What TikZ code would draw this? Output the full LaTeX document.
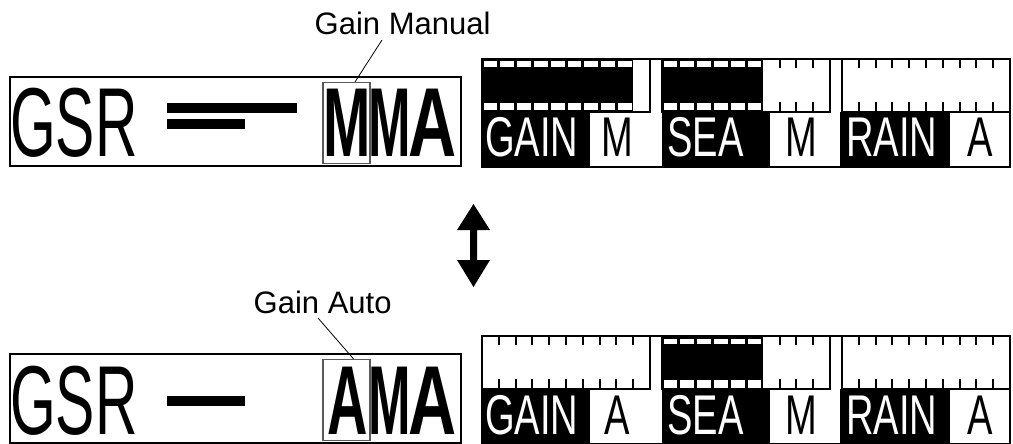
\documentclass[tikz,border=0pt]{standalone}
\usepackage{fontspec}
\setmainfont{Liberation Sans}
\usepackage{graphicx}
\usetikzlibrary{calc}
\newcommand\cnd[2]{\scalebox{#1}[1]{#2}}
\tikzset{
  frame/.style={line width=2pt},
  boxline/.style={line width=2.5pt},
  tickline/.style={line width=2pt},
  hl/.style={draw=black!65, line width=1.2pt, inner sep=0pt, minimum width=47pt, minimum height=81pt},
  big/.style={inner sep=0pt, anchor=base west, font=\fontsize{98}{98}\selectfont},
  bigb/.style={inner sep=0pt, anchor=base west, font=\fontsize{98}{98}\selectfont\bfseries},
  celltxt/.style={inner sep=0pt, anchor=base west, font=\fontsize{56}{56}\selectfont},
  lbl/.style={inner sep=0pt, anchor=base west, font=\fontsize{31}{31}\selectfont},
  leader/.style={line width=0.8pt},
}
% meter: #1 = left x, #2 = filled divisions
\newcommand\drawmeter[2]{%
  \ifnum#2>0
    \fill[black] (#1,59) rectangle ({#1+#2*16.8},112);
    \foreach \i in {1,...,#2} {
      \fill[white] ({#1+(\i-1)*16.8+1.5},61.5) rectangle ({#1+\i*16.8-1.5},67);
      \fill[white] ({#1+(\i-1)*16.8+1.5},103) rectangle ({#1+\i*16.8-1.5},110.5);
    }
  \fi
  \ifnum#2<9
    \pgfmathtruncatemacro\st{#2+1}
    \foreach \i in {\st,...,9} {
      \draw[tickline] ({#1+\i*16.8},59) -- ++(0,9);
      \draw[tickline] ({#1+\i*16.8},112) -- ++(0,-10);
    }
  \fi
  \draw[frame] (#1,59) rectangle ({#1+168},112);
}
\newcommand\drawstrip[2]{% #1 gain fill, #2 sea fill
  \fill[black] (482,112) rectangle (590,167);
  \fill[black] (662,112) rectangle (770,167);
  \fill[black] (840,112) rectangle (950,167);
  \drawmeter{482}{#1}
  \drawmeter{662}{#2}
  \drawmeter{842}{0}
  \draw[frame] (482,59) rectangle (1010,167);
}
\begin{document}
\begin{tikzpicture}[x=1pt,y=-1pt]
\useasboundingbox (0,0) rectangle (1013,444);

% ---------- top row ----------
\draw[boxline] (10,77) rectangle (461,166);
\node[big] (gsrT) at (10,157) {\cnd{0.6}{GSR}};
\fill (167,103) rectangle (297,113);
\fill (167,119) rectangle (245,129);
\node[bigb] (mT1) at (323.5,157) {\cnd{0.58}{M}};
\node[bigb] (mT2) at (368,157) {\cnd{0.52}{M}};
\node[bigb] (aT) at (408,157) {\cnd{0.68}{A}};
\node[hl] (hlM) at (346.5,123) {};
\node[lbl] (lblM) at (314.5,35) {Gain Manual};
\draw[leader] ([xshift=8.5pt]hlM.north) -- ([xshift=67.5pt,yshift=-5pt]lblM.base west);

\drawstrip{9}{6}
\node[celltxt, text=white] (gainT) at (485,157) {\cnd{0.68}{GAIN}};
\node[celltxt, anchor=base] (gmT) at (617,157) {\cnd{0.68}{M}};
\node[celltxt, text=white] (seaT) at (667,157) {\cnd{0.68}{SEA}};
\node[celltxt, anchor=base] (smT) at (801,157) {\cnd{0.68}{M}};
\node[celltxt, text=white] (rainT) at (846,157) {\cnd{0.68}{RAIN}};
\node[celltxt, anchor=base] (raT) at (980,157) {\cnd{0.68}{A}};

% ---------- arrow ----------
\fill (473.5,204) -- (490,230) -- (477,230) -- (477,260) -- (490,260) -- (473.5,287)
      -- (457,260) -- (470,260) -- (470,230) -- (457,230) -- cycle;

% ---------- bottom row ----------
\node[lbl] (lblA) at (253.5,313) {Gain Auto};
\begin{scope}[shift={(0,277)}]
\draw[boxline] (10,77) rectangle (461,166);
\node[big] (gsrB) at (10,157) {\cnd{0.6}{GSR}};
\fill (167,119) rectangle (245,129);
\node[bigb] (aB1) at (327,157) {\cnd{0.57}{A}};
\node[bigb] (mB) at (368,157) {\cnd{0.52}{M}};
\node[bigb] (aB2) at (408,157) {\cnd{0.68}{A}};
\node[hl] (hlA) at (346.5,123) {};

\drawstrip{0}{6}
\node[celltxt, text=white] (gainB) at (485,157) {\cnd{0.68}{GAIN}};
\node[celltxt, anchor=base] (gaB) at (617,157) {\cnd{0.68}{A}};
\node[celltxt, text=white] (seaB) at (667,157) {\cnd{0.68}{SEA}};
\node[celltxt, anchor=base] (smB) at (801,157) {\cnd{0.68}{M}};
\node[celltxt, text=white] (rainB) at (846,157) {\cnd{0.68}{RAIN}};
\node[celltxt, anchor=base] (raB) at (980,157) {\cnd{0.68}{A}};
\end{scope}
\draw[leader] ([xshift=7pt]hlA.north) -- ([xshift=64.5pt,yshift=-5pt]lblA.base west);
\end{tikzpicture}
\end{document}
